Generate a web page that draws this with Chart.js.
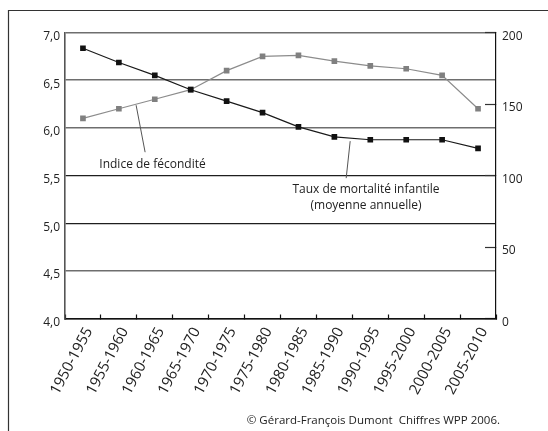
<!DOCTYPE html>
<html>
<head>
<meta charset="utf-8">
<script src="https://cdn.jsdelivr.net/npm/chart.js"></script>
<style>
  body { margin: 0; background: #fff; }
  canvas { display: block; }
</style>
</head>
<body>
<canvas id="chart" width="548" height="431"></canvas>
<script>
const periods = ['1950-1955', '1955-1960', '1960-1965', '1965-1970', '1970-1975', '1975-1980',
  '1980-1985', '1985-1990', '1990-1995', '1995-2000', '2000-2005', '2005-2010'];
const fecondite = [6.1, 6.2, 6.3, 6.4, 6.6, 6.75, 6.76, 6.7, 6.65, 6.62, 6.55, 6.2];
const mortalite = [189, 179, 170, 160, 152, 144, 134, 127, 125, 125, 125, 119];
const leftTicks = [4.0, 4.5, 5.0, 5.5, 6.0, 6.5, 7.0];
const rightTicks = [0, 50, 100, 150, 200];

const FONT = "'Open Sans', sans-serif";

// pointer lines, labels, frame and source line
const notes = {
  id: 'notes',
  beforeDraw(chart) {
    const c = chart.ctx;
    c.save();
    c.fillStyle = '#fff';
    c.fillRect(0, 0, chart.width, chart.height);
    c.restore();
  },
  afterDraw(chart) {
    const c = chart.ctx;
    const black = chart.getDatasetMeta(0).data;
    const grey = chart.getDatasetMeta(1).data;
    c.save();
    // frame
    c.strokeStyle = '#333';
    c.lineWidth = 1.2;
    c.beginPath();
    c.moveTo(8.5, 431);
    c.lineTo(8.5, 10.5);
    c.lineTo(548, 10.5);
    c.stroke();

    // pointer to grey line
    c.strokeStyle = '#555';
    c.lineWidth = 1;
    let sx = grey[1].x + (grey[2].x - grey[1].x) * 0.48;
    let sy = grey[1].y + (grey[2].y - grey[1].y) * 0.48 + 1;
    c.beginPath();
    c.moveTo(sx, sy);
    c.lineTo(sx + 9, sy + 47);
    c.stroke();

    // pointer to black line
    sx = black[7].x + (black[8].x - black[7].x) * 0.44;
    sy = black[7].y + (black[8].y - black[7].y) * 0.44 + 3;
    c.beginPath();
    c.moveTo(sx, sy);
    c.lineTo(sx - 4, sy + 37);
    c.stroke();

    c.fillStyle = '#222';
    c.font = '12px ' + FONT;
    c.textAlign = 'center';
    c.textBaseline = 'middle';
    c.fillText('Indice de fécondité', 152.5, 165);
    c.fillText('Taux de mortalité infantile', 366, 190);
    c.fillText('(moyenne annuelle)', 366, 206);

    c.textAlign = 'right';
    c.font = '11.5px ' + FONT;
    c.fillText('© Gérard-François Dumont  Chiffres WPP 2006.', 500, 421);
    c.restore();
  }
};

new Chart(document.getElementById('chart').getContext('2d'), {
  type: 'line',
  data: {
    labels: periods,
    datasets: [{
      label: 'Taux de mortalité infantile',
      data: mortalite,
      yAxisID: 'y1',
      borderColor: '#1a1a1a',
      borderWidth: 1.2,
      pointStyle: 'rect',
      pointRadius: 4,
      pointBackgroundColor: '#111',
      pointBorderColor: '#111',
      pointBorderWidth: 0,
      fill: false,
      tension: 0
    }, {
      label: 'Indice de fécondité',
      data: fecondite,
      yAxisID: 'y',
      borderColor: '#8c8c8c',
      borderWidth: 1.2,
      pointStyle: 'rect',
      pointRadius: 4,
      pointBackgroundColor: '#808080',
      pointBorderColor: '#808080',
      pointBorderWidth: 0,
      fill: false,
      tension: 0
    }]
  },
  options: {
    responsive: false,
    animation: false,
    devicePixelRatio: 1,
    layout: { padding: { top: 32.5, left: 0, right: 0, bottom: 0 } },
    plugins: { legend: { display: false }, tooltip: { enabled: false } },
    scales: {
      x: {
        type: 'category',
        offset: true,
        grid: {
          offset: true,
          drawOnChartArea: false,
          drawTicks: true,
          tickLength: -4,
          tickColor: '#111',
          tickWidth: 1.2
        },
        border: { display: true, color: '#111', width: 1.6 },
        ticks: {
          minRotation: 62,
          maxRotation: 62,
          autoSkip: false,
          padding: 10,
          labelOffset: 6,
          color: '#222',
          font: { family: FONT, size: 15 }
        },
        afterFit(scale) { scale.height = 431 - 318.5; }
      },
      y: {
        position: 'left',
        min: 4,
        max: 7,
        afterBuildTicks(scale) { scale.ticks = leftTicks.map(v => ({ value: v })); },
        grid: {
          drawTicks: false,
          color(ctx) {
            const v = ctx.tick && ctx.tick.value;
            if (v === 5.5 || v === 5.0) return '#1e1e1e';
            return '#6e6e6e';
          },
          lineWidth(ctx) {
            const v = ctx.tick && ctx.tick.value;
            if (v === 5.5 || v === 5.0) return 1.2;
            return 1.6;
          }
        },
        border: { display: true, color: '#555', width: 1.6 },
        ticks: {
          padding: 5,
          labelOffset: 4,
          color: '#222',
          font: { family: FONT, size: 12 },
          callback: v => Number(v).toFixed(1).replace('.', ',')
        },
        afterFit(scale) { scale.width = 65; }
      },
      y1: {
        position: 'right',
        min: 0,
        max: 200,
        afterBuildTicks(scale) { scale.ticks = rightTicks.map(v => ({ value: v })); },
        grid: {
          drawOnChartArea: false,
          drawTicks: true,
          tickLength: -11,
          tickColor: '#333',
          tickWidth: 1.2
        },
        border: { display: true, color: '#111', width: 1.2 },
        ticks: {
          padding: 17,
          labelOffset: 4,
          color: '#222',
          font: { family: FONT, size: 12 }
        },
        afterFit(scale) { scale.width = 548 - 496; }
      }
    }
  },
  plugins: [notes]
});
</script>
</body>
</html>
